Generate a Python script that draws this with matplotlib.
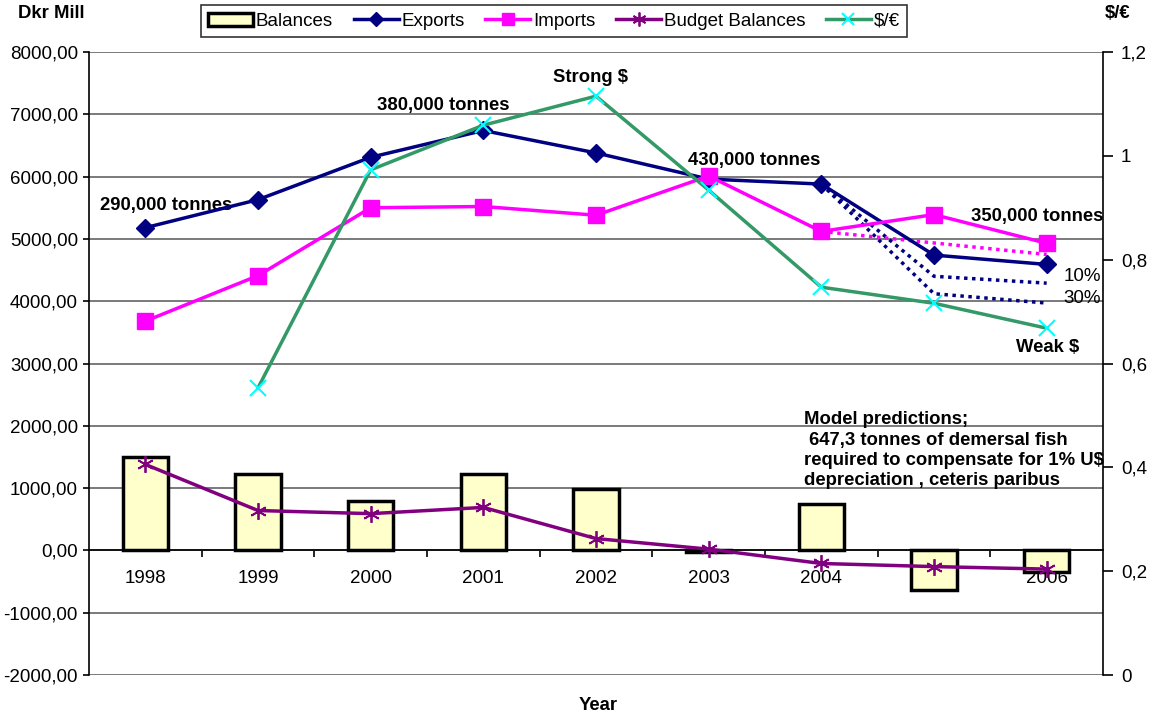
import matplotlib
matplotlib.use("Agg")
import matplotlib.pyplot as plt
from matplotlib.patches import Patch
from matplotlib.lines import Line2D
import numpy as np

plt.rcParams['font.family'] = ['Liberation Sans', 'DejaVu Sans']

years = ['1998', '1999', '2000', '2001', '2002', '2003', '2004', '2005', '2006']
balances = [1500, 1220, 800, 1220, 980, -30, 750, -640, -350]
exports = [5180, 5630, 6310, 6740, 6380, 5960, 5880, 4740, 4590]
imports = [3680, 4410, 5500, 5520, 5380, 6010, 5120, 5390, 4930]
budget = [1380, 640, 590, 690, 190, 20, -210, -260, -300]
usd_eur = [None, 0.553, 0.973, 1.059, 1.115, 0.934, 0.747, 0.716, 0.668]

# scenario projections from 2004 onwards
proj_idx = [6, 7, 8]
exports_10 = [5880, 4400, 4290]
exports_30 = [5880, 4120, 3970]
imports_proj = [5120, 4935, 4750]

x = np.arange(len(years))

fig = plt.figure(figsize=(11.59, 7.16), dpi=100)
ax = fig.add_axes([89/1159, 1-675/716, (1103-89)/1159, (675-52)/716])

ax.set_xlim(-0.5, 8.5)
ax.set_ylim(-2000, 8000)
ax.set_yticks(np.arange(-2000, 8001, 1000))
ax.set_yticklabels([f"{v:.2f}".replace('.', ',') for v in np.arange(-2000, 8001, 1000)])
ax.yaxis.grid(True, color='#707070', lw=1.3)
ax.set_axisbelow(True)

# category axis sits on the zero line
ax.spines['bottom'].set_position(('data', 0))
ax.spines['bottom'].set_linewidth(1.2)
ax.spines['top'].set_visible(False)
ax.spines['right'].set_visible(False)
ax.spines['left'].set_linewidth(1.2)
ax.set_xticks(x)
ax.set_xticklabels(years)
ax.set_xticks(np.arange(0.5, 8.5, 1), minor=True)
ax.tick_params(axis='x', which='major', length=0, pad=14, labelsize=13.5)
ax.tick_params(axis='x', which='minor', length=5, width=1.2, direction='out')
ax.tick_params(axis='y', length=4, width=1.2, pad=4, labelsize=13.5)

ax.bar(x, balances, width=0.4, color='#FFFFCC', edgecolor='black', lw=2.5, zorder=2)
ax.plot(x, exports, color='#000080', lw=2.5, marker='D', ms=9, zorder=4)
ax.plot(x, imports, color='#FF00FF', lw=2.5, marker='s', ms=11, zorder=4)
ax.plot(x, budget, color='#800080', lw=2.5, marker=(6, 2, 0), ms=12, mew=1.3, zorder=4)

dot = (0, (1, 1.3))
ax.plot(proj_idx, exports_10, color='#000080', lw=2.5, ls=dot, zorder=3)
ax.plot(proj_idx, exports_30, color='#000080', lw=2.5, ls=dot, zorder=3)
ax.plot(proj_idx, imports_proj, color='#FF00FF', lw=2.5, ls=dot, zorder=3)

ax2 = ax.twinx()
ax2.set_ylim(0, 1.2)
ax2.set_yticks(np.arange(0, 1.21, 0.2))
ax2.set_yticklabels(['0', '0,2', '0,4', '0,6', '0,8', '1', '1,2'])
ax2.tick_params(axis='y', length=7, width=1.2, pad=6, labelsize=13.5)
for s in ['top', 'bottom', 'left']:
    ax2.spines[s].set_visible(False)
ax2.spines['right'].set_linewidth(1.2)
ax2.plot(x[1:], usd_eur[1:], color='#339966', lw=2.5, marker='x', ms=11,
         mec='#00FFFF', mew=1.5, zorder=5)

bold = dict(fontsize=13.3, fontweight='bold')
ax.text(-0.40, 5540, '290,000 tonnes', va='center', **bold)
ax.text(2.06, 7140, '380,000 tonnes', va='center', **bold)
ax.text(3.62, 7590, 'Strong $', va='center', **bold)
ax.text(4.82, 6260, '430,000 tonnes', va='center', **bold)
ax.text(7.33, 5360, '350,000 tonnes', va='center', **bold)
ax.text(7.73, 3260, 'Weak $', va='center', **bold)
ax.text(8.15, 4400, '10%', va='center', fontsize=13.5)
ax.text(8.15, 4045, '30%', va='center', fontsize=13.5)
ax.text(5.85, 2230, 'Model predictions;\n 647,3 tonnes of demersal fish\n'
        'required to compensate for 1% U$\ndepreciation , ceteris paribus',
        va='top', linespacing=1.25, zorder=6, **bold)

fig.text(18/1159, 1-14/716, 'Dkr Mill', va='center', **bold)
fig.text(1105/1159, 1-14/716, '$/€', va='center', **bold)
fig.text(598/1159, 1-705/716, 'Year', ha='center', va='center', **bold)

handles = [
    Patch(facecolor='#FFFFCC', edgecolor='black', lw=2.5),
    Line2D([], [], color='#000080', lw=2.5, marker='D', ms=7),
    Line2D([], [], color='#FF00FF', lw=2.5, marker='s', ms=9),
    Line2D([], [], color='#800080', lw=2.5, marker=(6, 2, 0), ms=10, mew=1.3),
    Line2D([], [], color='#339966', lw=2.5, marker='x', ms=9, mec='#00FFFF', mew=1.5),
]
labels = ['Balances', 'Exports', 'Imports', 'Budget Balances', '$/€']
leg = fig.legend(handles, labels, loc='upper center', bbox_to_anchor=(554/1159, 1-5/716),
                 ncol=5, fontsize=13.5, frameon=True, fancybox=False, edgecolor='black',
                 handlelength=2.4, handletextpad=0.15, columnspacing=1.1,
                 borderpad=0.4, borderaxespad=0)
leg.get_frame().set_linewidth(1.2)

fig.savefig('out.png', dpi=100)
